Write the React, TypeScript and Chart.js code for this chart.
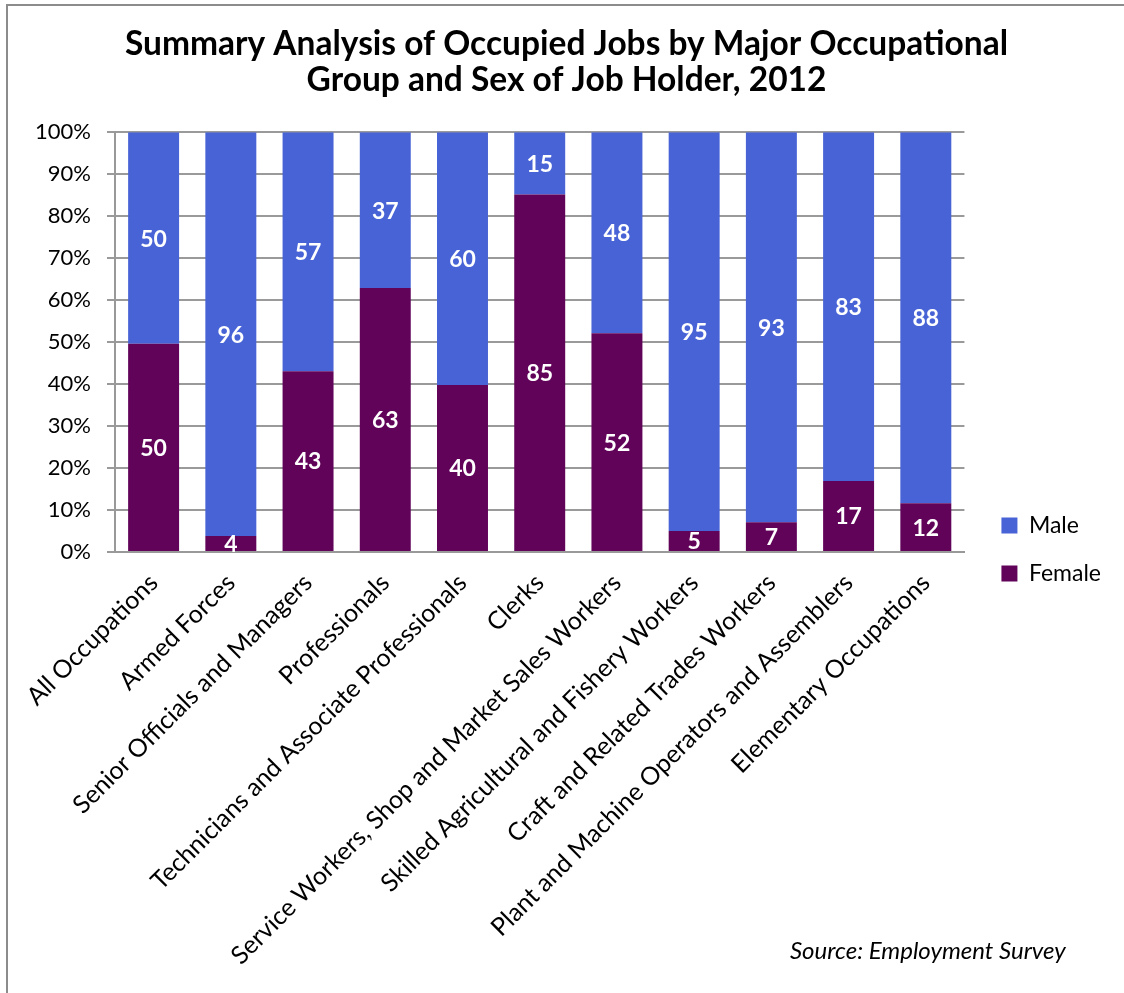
import React, { useEffect, useRef } from "react";
import { Chart, registerables } from "chart.js";

Chart.register(...registerables);

const categories = [
  "All Occupations",
  "Armed Forces",
  "Senior Officials and Managers",
  "Professionals",
  "Technicians and Associate Professionals",
  "Clerks",
  "Service Workers, Shop and Market Sales Workers",
  "Skilled Agricultural and Fishery Workers",
  "Craft and Related Trades Workers",
  "Plant and Machine Operators and Assemblers",
  "Elementary Occupations",
];
const femaleValues = [49.6, 3.8, 43.1, 62.9, 39.8, 85.2, 52.1, 5.0, 7.1, 16.9, 11.6];
const maleValues = [50.4, 96.2, 56.9, 37.1, 60.2, 14.8, 47.9, 95.0, 92.9, 83.1, 88.4];
const femaleLabels = ["50", "4", "43", "63", "40", "85", "52", "5", "7", "17", "12"];
const maleLabels = ["50", "96", "57", "37", "60", "15", "48", "95", "93", "83", "88"];
const seriesNames = ["Female", "Male"];
const titleLines = [
  "Summary Analysis of Occupied Jobs by Major Occupational",
  "Group and Sex of Job Holder, 2012",
];
const sourceText = "Source: Employment Survey";

const FONT = "Lato, 'Open Sans', sans-serif";
const MALE_COLOR = "#4863D6";
const FEMALE_COLOR = "#62035A";

const LEGEND_SHIFT_X = 12;
const LEGEND_SHIFT_Y = 50;
const TITLE_SHIFT_X = 13;

const barLabelPlugin = {
  id: "barLabels",
  afterDatasetsDraw(chart: any) {
    const ctx = chart.ctx;
    const labelSets = [femaleLabels, maleLabels];
    ctx.save();
    ctx.font = `bold 23px ${FONT}`;
    ctx.fillStyle = "#ffffff";
    ctx.textAlign = "center";
    ctx.textBaseline = "middle";
    chart.data.datasets.forEach((ds: any, di: number) => {
      const meta = chart.getDatasetMeta(di);
      meta.data.forEach((el: any, i: number) => {
        const { x, y, base } = el.getProps(["x", "y", "base"], true);
        ctx.fillText(labelSets[di][i], x, (y + base) / 2 + 1);
      });
    });
    ctx.restore();
  },
};

const boxShiftPlugin = {
  id: "boxShift",
  afterLayout(chart: any) {
    const lg = chart.legend;
    if (lg) {
      lg.left += LEGEND_SHIFT_X;
      lg.right += LEGEND_SHIFT_X;
      lg.top += LEGEND_SHIFT_Y;
      lg.bottom += LEGEND_SHIFT_Y;
    }
    const tb = chart.titleBlock;
    if (tb) {
      tb.left += TITLE_SHIFT_X;
      tb.right += TITLE_SHIFT_X;
    }
  },
};

export default function App() {
  const canvasRef = useRef<HTMLCanvasElement | null>(null);

  useEffect(() => {
    if (!canvasRef.current) return;
    const chart = new Chart(canvasRef.current, {
      type: "bar",
      data: {
        labels: categories,
        datasets: [
          {
            label: seriesNames[0],
            data: femaleValues,
            backgroundColor: FEMALE_COLOR,
            barPercentage: 0.66,
            categoryPercentage: 1,
          },
          {
            label: seriesNames[1],
            data: maleValues,
            backgroundColor: MALE_COLOR,
            barPercentage: 0.66,
            categoryPercentage: 1,
          },
        ],
      },
      options: {
        responsive: false,
        animation: false,
        layout: { padding: { left: 0, right: 25, top: 0, bottom: 0 } },
        plugins: {
          title: {
            display: true,
            text: titleLines,
            color: "#000",
            font: { family: FONT, size: 33.5, weight: "bold", lineHeight: 1.05 },
            padding: { top: 21, bottom: 35 },
          },
          legend: {
            position: "right",
            reverse: true,
            labels: {
              color: "#000",
              font: { family: FONT, size: 23 },
              boxWidth: 16,
              boxHeight: 16,
              padding: 25,
            },
          },
          tooltip: { enabled: false },
        },
        scales: {
          x: {
            stacked: true,
            grid: { display: false, drawTicks: false },
            border: { display: true, color: "#999", width: 2 },
            ticks: {
              color: "#000",
              font: { family: FONT, size: 25 },
              maxRotation: 45,
              minRotation: 45,
              autoSkip: false,
              padding: 16,
            },
            afterFit: (scale: any) => {
              scale.height = 441;
            },
          },
          y: {
            stacked: true,
            min: 0,
            max: 100,
            grid: { color: "#9a9a9a", lineWidth: 2, tickLength: 8 },
            border: { display: true, color: "#999", width: 2 },
            ticks: {
              stepSize: 10,
              color: "#000",
              font: { family: FONT, size: 22 },
              padding: 16,
              callback: (v: any) => `${v}%`,
            },
            afterFit: (scale: any) => {
              scale.width = 107;
            },
          },
        },
      },
      plugins: [barLabelPlugin, boxShiftPlugin],
    });
    return () => chart.destroy();
  }, []);

  return (
    <div
      style={{
        position: "absolute",
        left: 6,
        top: 4,
        width: 1118,
        height: 989,
        borderTop: "2px solid #8c8c8c",
        borderLeft: "2px solid #8c8c8c",
        boxSizing: "border-box",
        background: "#fff",
      }}
    >
      <canvas ref={canvasRef} width={1116} height={987} style={{ display: "block" }} />
      <div
        style={{
          position: "absolute",
          left: 782,
          top: 929,
          fontFamily: FONT,
          fontStyle: "italic",
          fontSize: 24,
          color: "#000",
          whiteSpace: "nowrap",
        }}
      >
        {sourceText}
      </div>
    </div>
  );
}
